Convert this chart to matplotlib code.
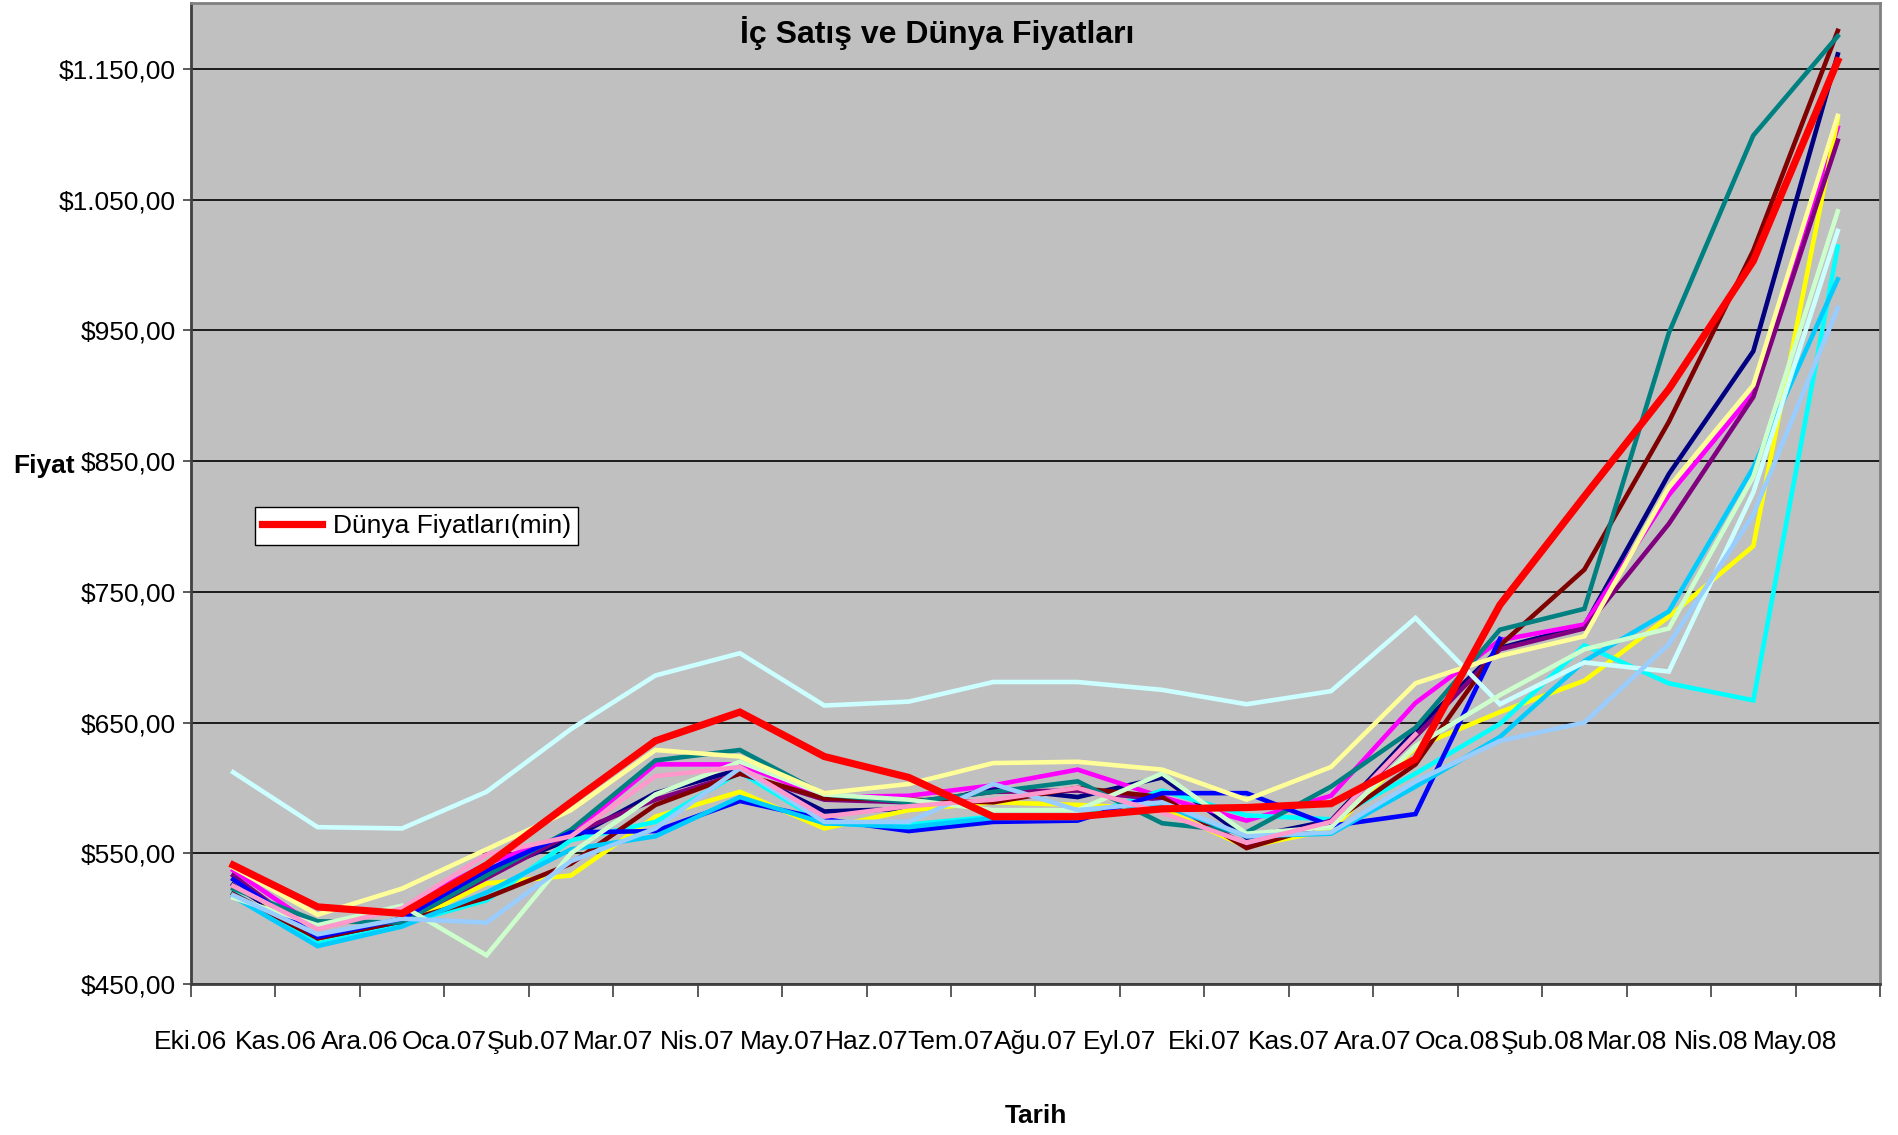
import numpy as np
import matplotlib
matplotlib.use('Agg')
import matplotlib.pyplot as plt
from matplotlib.ticker import FuncFormatter

# aylar
aylar = ['Eki.06', 'Kas.06', 'Ara.06', 'Oca.07', 'Şub.07', 'Mar.07', 'Nis.07', 'May.07',
         'Haz.07', 'Tem.07', 'Ağu.07', 'Eyl.07', 'Eki.07', 'Kas.07', 'Ara.07', 'Oca.08',
         'Şub.08', 'Mar.08', 'Nis.08', 'May.08']

# iç satış fiyatları (seriler), None = veri yok
navy = [526, 485, 500, 535, 561, 596, 614, 582, 584, 600, 593, 608, 562, 575, 644, 707, 724, 840, 934, 1161]
magenta = [537, 493, 508, 542, 565, 618, 618, 593, 594, 602, 614, 593, 575, 594, 665, 713, 725, 824, 902, 1105]
sari = [530, 483, 495, 527, 533, 578, 597, 569, 583, 589, 587, 584, 555, 568, 631, 658, 682, 731, 785, 1112]
cyan = [520, 481, 496, 514, 560, 574, 612, 573, 572, 578, 577, 598, 579, 576, 611, 649, 709, 680, 667, 1014]
mor = [533, 485, 498, 531, 565, 591, 611, 591, 589, 597, 598, 591, 556, 575, 639, 706, 722, 802, 899, 1095]
bordo = [519, 485, 498, 516, 542, 587, 611, 592, 591, 589, 600, 593, 554, 573, 618, 709, 767, 880, 1011, 1179]
teal = [523, 498, 497, 533, 568, 621, 629, 595, 589, 597, 605, 573, 566, 601, 646, 721, 737, 948, 1099, 1175]
mavi = [530, 486, 500, 537, 566, 567, 590, 576, 567, 574, 575, 596, 596, 571, 580, 714, None, None, None, None]
gok = [517, 479, 494, 520, 553, 563, 593, 573, 570, 577, 577, 587, 563, 565, 601, 639, 697, 735, 845, 989]
acik_cyan = [612, 570, 569, 597, 645, 686, 703, 663, 666, 681, 681, 675, 664, 674, 730, 664, 696, 689, 826, 1026]
acik_yesil = [516, 495, 510, 472, 550, 595, 620, 595, 591, 583, 583, 611, 565, 570, 632, 671, 706, 722, 838, 1041]
acik_sari = [539, 503, 523, 553, 583, 629, 624, 596, 603, 619, 620, 614, 591, 616, 680, 701, 716, 830, 908, 1114]
soluk_mavi = [518, 488, 500, 497, 544, 569, 615, 574, 574, 603, 583, 589, 563, 566, 605, 636, 650, 710, 809, 967]
pembe = [525, 492, 508, 549, 563, 609, 616, 578, 586, 591, 600, 581, 558, 574, 641, None, None, None, None, None]

# dünya fiyatları (min)
dunya = [541, 509, 504, 541, 589, 636, 658, 624, 608, 578, 578, 584, 585, 588, 622, 740, 823, 905, 1003, 1156]

seriler = [navy, magenta, sari, cyan, mor, bordo, teal, mavi, gok,
           acik_cyan, acik_yesil, acik_sari, soluk_mavi, pembe]
renkler = ['#000080', '#FF00FF', '#FFFF00', '#00FFFF', '#800080', '#800000', '#008080',
           '#0000FF', '#00CCFF', '#CCFFFF', '#CCFFCC', '#FFFF99', '#99CCFF', '#FF99CC']

plt.rcParams['font.family'] = ['Liberation Sans', 'DejaVu Sans']

fig = plt.figure(figsize=(18.98, 11.35), dpi=100)
ax = fig.add_axes([0.1006, 0.133, 0.8899, 0.864])
ax.set_facecolor('#C0C0C0')

x = np.arange(len(aylar))
for s, r in zip(seriler, renkler):
    y = np.array([np.nan if v is None else v for v in s], dtype=float)
    ax.plot(x, y, color=r, linewidth=3.3, solid_joinstyle='miter')
ax.plot(x, dunya, color='#FF0000', linewidth=5.2, label='Dünya Fiyatları(min)',
        solid_joinstyle='miter')

ax.set_xlim(-0.5, 19.5)
ax.set_ylim(450, 1200)
ax.set_yticks(np.arange(450, 1151, 100))
ax.yaxis.set_major_formatter(FuncFormatter(
    lambda v, p: '$' + f'{v:,.2f}'.replace(',', 'X').replace('.', ',').replace('X', '.')))
ax.grid(axis='y', color='black', linewidth=1.2)
ax.set_axisbelow(True)

ax.set_xticks(np.arange(-0.5, 20, 1))
ax.set_xticklabels(aylar + [''])
ax.tick_params(axis='x', length=9, width=1.2, pad=24, labelsize=19, colors='#404040',
               labelcolor='black')
ax.tick_params(axis='y', length=6, width=1.2, pad=5, labelsize=19, colors='#404040',
               labelcolor='black')

for k in ['left', 'bottom']:
    ax.spines[k].set_color('#404040')
    ax.spines[k].set_linewidth(2)
for k in ['top', 'right']:
    ax.spines[k].set_color('#808080')
    ax.spines[k].set_linewidth(2)

fig.text(0.494, 0.971, 'İç Satış ve Dünya Fiyatları', fontsize=23, fontweight='bold',
         ha='center', va='center')
fig.text(0.007, 0.589, 'Fiyat', fontsize=19, fontweight='bold', ha='left', va='center')
fig.text(0.546, 0.017, 'Tarih', fontsize=19, fontweight='bold', ha='center', va='center')

leg = ax.legend(loc='upper left', bbox_to_anchor=(0.038, 0.486), fontsize=19,
                frameon=True, fancybox=False, handlelength=2.3, borderpad=0.25,
                handletextpad=0.4, borderaxespad=0)
leg.get_frame().set_edgecolor('black')
leg.get_frame().set_linewidth(1.0)
leg.get_frame().set_facecolor('white')
leg.get_frame().set_alpha(1)

fig.savefig('out.png', dpi=100)
